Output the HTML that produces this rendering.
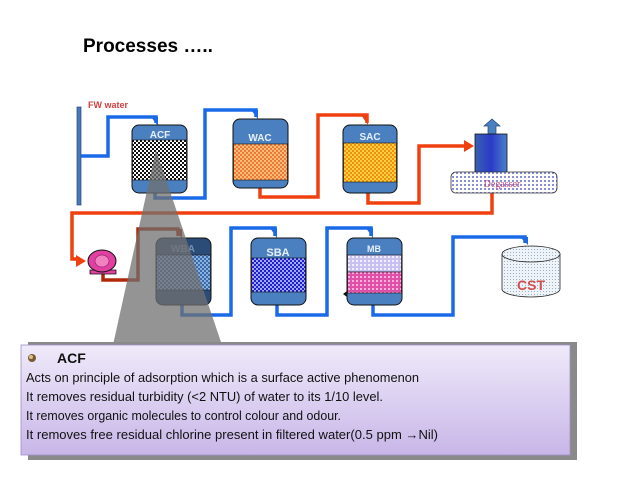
<!DOCTYPE html>
<html><head><meta charset="utf-8"><style>
html,body{margin:0;padding:0;background:#fff;width:638px;height:479px;overflow:hidden}
svg{display:block}
</style></head><body>
<svg width="638" height="479" viewBox="0 0 638 479" xmlns="http://www.w3.org/2000/svg">
<defs>
<pattern id="pBlack" width="4" height="4" patternUnits="userSpaceOnUse"><rect width="4" height="4" fill="#fff"/><rect width="2" height="2" fill="#111"/><rect x="2" y="2" width="2" height="2" fill="#111"/></pattern>
<pattern id="pOr" width="4" height="4" patternUnits="userSpaceOnUse"><rect width="4" height="4" fill="#f07840"/><rect width="2" height="2" fill="#f6c070"/><rect x="2" y="2" width="2" height="2" fill="#f6c070"/></pattern>
<pattern id="pSac" width="4" height="4" patternUnits="userSpaceOnUse"><rect width="4" height="4" fill="#f09010"/><rect width="2" height="2" fill="#f8d040"/><rect x="2" y="2" width="2" height="2" fill="#f8d040"/></pattern>
<pattern id="pWba" width="4" height="4" patternUnits="userSpaceOnUse"><rect width="4" height="4" fill="#3a6aa8"/><rect width="2" height="2" fill="#8ab0e0"/><rect x="2" y="2" width="2" height="2" fill="#8ab0e0"/></pattern>
<pattern id="pSba" width="4" height="4" patternUnits="userSpaceOnUse"><rect width="4" height="4" fill="#2020d0"/><rect width="2" height="2" fill="#a0a8ff"/><rect x="2" y="2" width="2" height="2" fill="#a0a8ff"/></pattern>
<pattern id="pLav" width="4" height="4" patternUnits="userSpaceOnUse"><rect width="4" height="4" fill="#c8c0f0"/><rect width="2" height="2" fill="#f0eeff"/></pattern>
<pattern id="pPink" width="4" height="4" patternUnits="userSpaceOnUse"><rect width="4" height="4" fill="#e050a8"/><rect width="2" height="2" fill="#f8b0dc"/></pattern>
<pattern id="pDeg" width="4" height="4" patternUnits="userSpaceOnUse"><rect width="4" height="4" fill="#fff"/><rect width="2" height="2" fill="#8a90d8"/></pattern>
<pattern id="pCst" width="3" height="3" patternUnits="userSpaceOnUse"><rect width="3" height="3" fill="#eef3f8"/><rect width="1" height="1" fill="#9ab0c8"/></pattern>
<linearGradient id="gBox" x1="0" y1="0" x2="0" y2="1"><stop offset="0" stop-color="#efeafa"/><stop offset="1" stop-color="#c8b6e8"/></linearGradient>
<linearGradient id="gDeg" x1="0" y1="0" x2="1" y2="0"><stop offset="0" stop-color="#3a60b0"/><stop offset="0.5" stop-color="#2a3ac8"/><stop offset="1" stop-color="#4a80c8"/></linearGradient>
</defs>

<text x="83" y="52" font-family="Liberation Sans, sans-serif" font-weight="bold" font-size="19">Processes …..</text>

<!-- FW -->
<text x="88" y="108" font-family="Liberation Sans, sans-serif" font-weight="bold" font-size="9" fill="#d04040">FW water</text>
<rect x="77" y="107" width="4" height="98" fill="#4a78b8" stroke="#24487a" stroke-width="0.7"/>

<g fill="none" stroke-width="3.5">
<path d="M81 156 H108 V117 H156 V123" stroke="#1a6ae8"/>
<path d="M155 193 V198 H205 V110 H256 V117" stroke="#1a6ae8"/>
<path d="M260 188 V197 H318 V115 H367 V123" stroke="#f04010"/>
<path d="M368 193 V203 H419 V146 H465" stroke="#f04010"/>
<path d="M492 193 V213 H72 V259 H80" stroke="#f04010"/>
<path d="M103 272 V280 H138 V229 H178 V236" stroke="#b02808"/>
<path d="M182 305 V315 H231 V228 H275 V236" stroke="#1a6ae8"/>
<path d="M277 305 V315 H327 V228 H371 V236" stroke="#1a6ae8"/>
<path d="M373 305 V315 H453 V237 H525 V243" stroke="#1a6ae8"/>
</g>
<g>
<path d="M151 117 L158 117 L158 126 Z" fill="#1a6ae8"/>
<path d="M251 110 L258 110 L258 119 Z" fill="#1a6ae8"/>
<path d="M361 115 L368 115 L368 125 Z" fill="#f04010"/>
<path d="M464 140 L474 146 L464 152 Z" fill="#f04010"/>
<path d="M76 255 L86 261 L76 267 Z" fill="#f04010"/>
<path d="M174 229 L182 229 L182 238 Z" fill="#b02808"/>
<path d="M270 228 L277 228 L277 238 Z" fill="#1a6ae8"/>
<path d="M366 228 L373 228 L373 238 Z" fill="#1a6ae8"/>
<path d="M520 237 L528 237 L528 245 Z" fill="#1a6ae8"/>
</g>

<!-- vessels top -->
<rect x="132" y="125" width="55" height="68" rx="7" fill="#4a80c0" stroke="#111" stroke-width="1"/>
<rect x="132.5" y="140" width="54" height="40" fill="url(#pBlack)" stroke="#111" stroke-width="0.6"/>
<text x="160" y="138" text-anchor="middle" font-family="Liberation Sans, sans-serif" font-weight="bold" font-size="10" fill="#e8eef8">ACF</text>

<rect x="233" y="119" width="55" height="69" rx="7" fill="#4a80c0" stroke="#111" stroke-width="1"/>
<rect x="233.5" y="144" width="54" height="36" fill="url(#pOr)" stroke="#111" stroke-width="0.6"/>
<text x="260" y="141" text-anchor="middle" font-family="Liberation Sans, sans-serif" font-weight="bold" font-size="10" fill="#e8eef8">WAC</text>

<rect x="343" y="125" width="54" height="68" rx="7" fill="#4a80c0" stroke="#111" stroke-width="1"/>
<rect x="343.5" y="143" width="53" height="39" fill="url(#pSac)" stroke="#111" stroke-width="0.6"/>
<text x="370" y="140" text-anchor="middle" font-family="Liberation Sans, sans-serif" font-weight="bold" font-size="10" fill="#e8eef8">SAC</text>

<!-- degasser -->
<path d="M488 134 V126 H484 L492 119 L500 126 H496 V134 Z" fill="#4a80c0" stroke="#24487a" stroke-width="0.7"/>
<rect x="475" y="134" width="32" height="39" fill="url(#gDeg)" stroke="#111" stroke-width="0.8"/>
<rect x="451" y="172" width="106" height="21" rx="5" fill="url(#pDeg)" stroke="#333" stroke-width="0.8"/>
<text x="502" y="187" text-anchor="middle" font-family="Liberation Serif, serif" font-size="10" fill="#c04a80">Degasser</text>

<!-- pump -->
<path d="M90 270 L116 270 L116 274 L90 274 Z" fill="#e040a0" stroke="#111" stroke-width="0.8"/>
<ellipse cx="102" cy="261" rx="14" ry="11" fill="#e040a0" stroke="#111" stroke-width="1"/>
<ellipse cx="102" cy="261" rx="7" ry="6" fill="#f080c0" stroke="#a02070" stroke-width="0.7"/>

<!-- bottom vessels -->
<rect x="156" y="238" width="55" height="67" rx="7" fill="#2c4c78" stroke="#111" stroke-width="1"/>
<rect x="156.5" y="255" width="54" height="35" fill="url(#pWba)" stroke="#111" stroke-width="0.6"/>
<text x="183" y="252" text-anchor="middle" font-family="Liberation Sans, sans-serif" font-weight="bold" font-size="10" fill="#7890b0">WBA</text>

<rect x="251" y="238" width="55" height="67" rx="7" fill="#4a80c0" stroke="#111" stroke-width="1"/>
<rect x="251.5" y="258" width="54" height="34" fill="url(#pSba)" stroke="#111" stroke-width="0.6"/>
<text x="278" y="256" text-anchor="middle" font-family="Liberation Sans, sans-serif" font-weight="bold" font-size="11" fill="#e8eef8">SBA</text>

<rect x="347" y="238" width="55" height="67" rx="7" fill="#4a80c0" stroke="#111" stroke-width="1"/>
<rect x="347.5" y="255" width="54" height="17" fill="url(#pLav)" stroke="#111" stroke-width="0.6"/>
<rect x="347.5" y="272" width="54" height="21" fill="url(#pPink)" stroke="#111" stroke-width="0.6"/>
<text x="374" y="252" text-anchor="middle" font-family="Liberation Sans, sans-serif" font-weight="bold" font-size="9" fill="#e8eef8">MB</text>
<path d="M343 294 L347 291 L347 297 Z" fill="#111"/>

<!-- CST -->
<path d="M502 254 V289 A29 8 0 0 0 560 289 V254" fill="url(#pCst)" stroke="#222" stroke-width="0.8"/>
<ellipse cx="531" cy="254" rx="29" ry="8" fill="url(#pCst)" stroke="#222" stroke-width="0.8"/>
<text x="531" y="290" text-anchor="middle" font-family="Liberation Sans, sans-serif" font-weight="bold" font-size="14" fill="#d05050">CST</text>

<!-- callout triangle -->
<path d="M156 150 L113 345 L222 345 Z" fill="#707070" fill-opacity="0.75"/>

<!-- box -->
<rect x="28" y="342" width="549" height="118" fill="#8a8a8a"/>
<rect x="21" y="345" width="549" height="110" fill="url(#gBox)" stroke="#a090c8" stroke-width="0.8"/>
<circle cx="32" cy="358" r="4" fill="#7a5a30"/>
<circle cx="31" cy="357" r="2" fill="#d8c090"/>
<g font-family="Liberation Sans, sans-serif" fill="#111">
<text x="57" y="363" font-weight="bold" font-size="14">ACF</text>
<text x="26" y="382" font-size="12.5" textLength="393" lengthAdjust="spacingAndGlyphs">Acts on principle of adsorption which is a surface active phenomenon</text>
<text x="26" y="401" font-size="12.5" textLength="357" lengthAdjust="spacingAndGlyphs">It removes residual turbidity (&lt;2 NTU) of water to its 1/10 level.</text>
<text x="26" y="420" font-size="12.5" textLength="315" lengthAdjust="spacingAndGlyphs">It removes organic molecules to control colour and odour.</text>
<text x="26" y="439" font-size="12.5" textLength="412" lengthAdjust="spacingAndGlyphs">It removes free residual chlorine present in filtered water(0.5 ppm →Nil)</text>
</g>
</svg>
</body></html>
